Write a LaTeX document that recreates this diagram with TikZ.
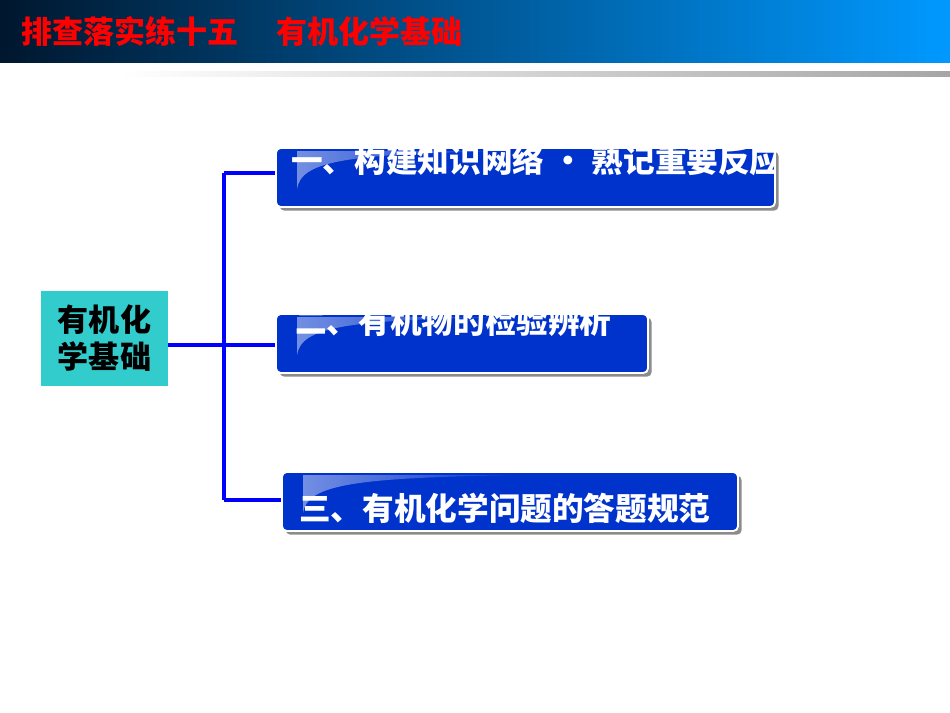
\documentclass[tikz,border=0pt]{standalone}
\usepackage{fontspec}
\setmainfont{Liberation Sans}
\newfontfamily\cjk{Noto Sans CJK SC}
\usetikzlibrary{positioning,calc,shadows,fadings}
\definecolor{hdDark}{HTML}{00172E}
\definecolor{hdLight}{HTML}{0099FF}
\definecolor{rootFill}{HTML}{33CCCC}
\definecolor{itemFill}{HTML}{0033CC}
\definecolor{linkBlue}{HTML}{0000FF}
\tikzfading[name=glossfade, left color=transparent!55, right color=transparent!100]
\tikzset{
  rootbox/.style={
    fill=rootFill, minimum width=3.81cm, minimum height=2.85cm, inner sep=0pt,
    font=\cjk\bfseries\fontsize{26.5}{31.5}\selectfont, align=center
  },
  itembox/.style={
    fill=itemFill, draw=white, line width=1.6pt, rounded corners=4pt,
    minimum height=1.77cm, inner sep=0pt,
    drop shadow={shadow xshift=0.11cm, shadow yshift=-0.11cm, fill=black!45, opacity=1}
  },
  itemtext/.style={text=white, font=\cjk\bfseries\fontsize{27}{30}\selectfont, anchor=west, inner sep=0pt},
  titletext/.style={text=red, font=\cjk\bfseries\fontsize{26.5}{30}\selectfont, anchor=west, inner sep=0pt},
  link/.style={linkBlue, line width=3pt},
  gloss/.style={fill=white, path fading=glossfade}
}

\begin{document}
\begin{tikzpicture}[x=0.03cm, y=-0.03cm]
  \useasboundingbox[fill=white] (0,0) rectangle (950,713);

  % header bar
  \shade[left color=hdDark, right color=hdLight] (0,0) rectangle (950,63);
  \shade[left color=white, right color=black!35] (120,72) rectangle (950,77);
  \node[titletext] (title) at (21,31) {排查落实练十五\hspace{0.22em}　有机化学基础};

  % root and branches
  \node[rootbox] (root) at (104.5,338.5) {有机化\\学基础};
  \node[itembox, minimum width=14.97cm] (b1) at (525.5,177.5) {};
  \node[itembox, minimum width=11.16cm] (b2) at (462,343.5) {};
  \node[itembox, minimum width=13.68cm] (b3) at (510,501.5) {};

  % glossy highlights
  \foreach \b in {b1,b2,b3} {
    \begin{scope}[shift={(\b.north west)}]
      \fill[gloss] (22,42) .. controls (26,14) and (70,6) .. (250,4) -- (22,4) -- cycle;
    \end{scope}
  }

  % labels, clipped by their boxes
  \begin{scope}
    \clip (b1.south west) rectangle (b1.north east);
    \node[itemtext] (t1) at (291,160) {一、构建知识网络\hspace{0.25em}・\hspace{0.25em}熟记重要反应};
  \end{scope}
  \begin{scope}
    \clip (b2.south west) rectangle (b2.north east);
    \node[itemtext] (t2) at (295,321) {二、有机物的检验辨析};
  \end{scope}
  \node[itemtext] (t3) at (299,508) {三、有机化学问题的答题规范};

  % connectors
  \coordinate (ktop) at (224,173);
  \coordinate (kmid) at (224,345);
  \coordinate (kbot) at (224,500);
  \draw[link] (root.east |- kmid) -- ($(kmid)+(-2,0)$);
  \draw[link] (ktop) -- (kbot);
  \draw[link] (ktop) -- (b1.west |- ktop);
  \draw[link] (kmid) -- (b2.west |- kmid);
  \draw[link] (kbot) -- (b3.west |- kbot);
\end{tikzpicture}
\end{document}
